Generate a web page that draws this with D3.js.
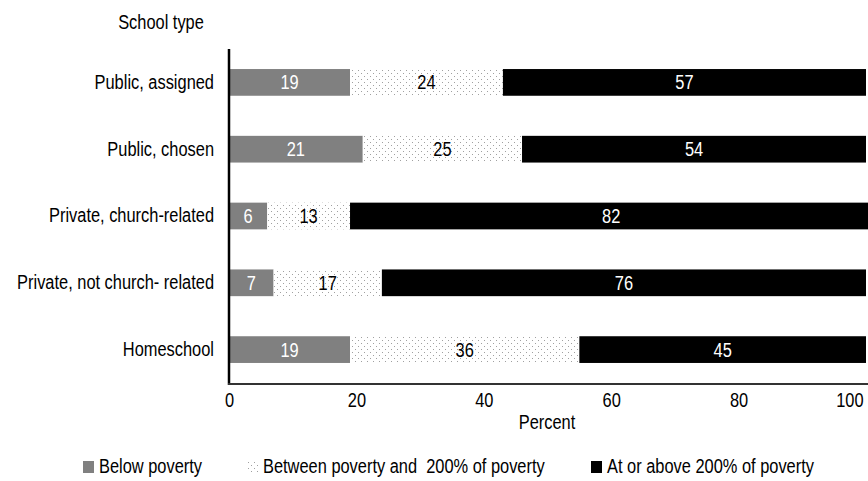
<!DOCTYPE html>
<html><head><meta charset="utf-8">
<script src="https://cdn.jsdelivr.net/npm/d3@7"></script>
<style>
body{margin:0;background:#fff;}
svg{display:block;font-family:"Liberation Sans",Arial,sans-serif;}
</style></head><body>
<svg id="c" width="868" height="481"></svg>
<script>
const categories = ["Public, assigned","Public, chosen","Private, church-related","Private, not church- related","Homeschool"];
const seriesNames = ["Below poverty","Between poverty and  200% of poverty","At or above 200% of poverty"];
const belowPoverty = [19,21,6,7,19];
const between = [24,25,13,17,36];
const atOrAbove = [57,54,82,76,45];
const xTicks = [0,20,40,60,80,100];

const FS = 20, SQ = 0.82;
function narrow(sel){
  sel.each(function(){
    const len = this.getComputedTextLength();
    d3.select(this).attr("textLength", len*SQ).attr("lengthAdjust","spacingAndGlyphs");
  });
  return sel;
}

const svg = d3.select("#c");
const defs = svg.append("defs");
const pat = defs.append("pattern").attr("id","dots").attr("patternUnits","userSpaceOnUse").attr("width",6).attr("height",6);
pat.append("rect").attr("width",6).attr("height",6).attr("fill","#fff");
pat.append("rect").attr("x",1).attr("y",1).attr("width",1).attr("height",1).attr("fill","#a0a0a0");
pat.append("rect").attr("x",4).attr("y",4).attr("width",1).attr("height",1).attr("fill","#a0a0a0");

const fills = ["#808080","url(#dots)","#000"];
const textFill = ["#fff","#000","#fff"];

const x = d3.scaleLinear().domain([0,100]).range([229,866]);
const y = d3.scaleBand().domain(categories).range([49,383]).paddingInner(0.6).paddingOuter(0.3);

const rows = categories.map((c,i)=>({cat:c, vals:[belowPoverty[i],between[i],atOrAbove[i]]}));
rows.forEach(r=>{
  let acc=0;
  r.vals.forEach((v,k)=>{
    const x0=acc; acc+=v;
    svg.append("rect").attr("x",x(x0)).attr("y",y(r.cat)).attr("width",x(acc)-x(x0)).attr("height",y.bandwidth()).attr("fill",fills[k]);
    narrow(svg.append("text").attr("x",(x(x0)+x(acc))/2).attr("y",y(r.cat)+y.bandwidth()/2).attr("dy","0.35em")
      .attr("text-anchor","middle").attr("font-size",FS).attr("fill",textFill[k]).text(v));
  });
});

// y axis
const ya = svg.append("g").attr("transform","translate(229,0)").call(d3.axisLeft(y).tickSize(0).tickPadding(15));
ya.select(".domain").remove();
ya.selectAll("text").attr("font-size",FS).attr("fill","#000").style("font-family","inherit");
narrow(ya.selectAll("text"));
svg.append("line").attr("x1",229).attr("x2",229).attr("y1",49).attr("y2",385).attr("stroke","#000").attr("stroke-width",2.5);

// x axis
const xa = svg.append("g").attr("transform","translate(0,384)").call(d3.axisBottom(x).tickValues(xTicks).tickSize(0).tickPadding(9));
xa.select(".domain").remove();
xa.selectAll("text").attr("font-size",FS).attr("fill","#000").style("font-family","inherit");
xa.selectAll(".tick").filter(d=>d===100).select("text").attr("text-anchor","end").attr("x",-3);
narrow(xa.selectAll("text"));
svg.append("line").attr("x1",228).attr("x2",868).attr("y1",384).attr("y2",384).attr("stroke","#333").attr("stroke-width",2);

narrow(svg.append("text").attr("x",547).attr("y",429).attr("text-anchor","middle").attr("font-size",FS).text("Percent"));
narrow(svg.append("text").attr("x",161).attr("y",29).attr("text-anchor","middle").attr("font-size",FS).text("School type"));

// legend
const legX = [83,247,591];
seriesNames.forEach((n,k)=>{
  const g = svg.append("g").attr("transform",`translate(${legX[k]},461)`);
  g.append("rect").attr("x",0).attr("y",0).attr("width",11).attr("height",12).attr("fill",fills[k]);
  narrow(g.append("text").attr("x",16).attr("y",12).attr("font-size",FS).style("white-space","pre").text(n));
});
</script>
</body></html>
